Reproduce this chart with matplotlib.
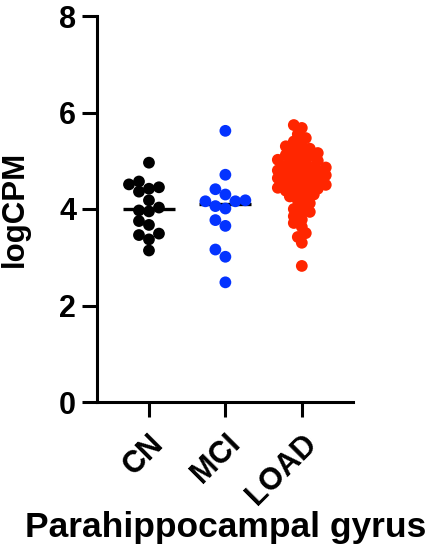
import numpy as np
import matplotlib.pyplot as plt

plt.rcParams['font.family'] = ['Liberation Sans', 'DejaVu Sans']
plt.rcParams['font.weight'] = 'bold'

groups = ['CN', 'MCI', 'LOAD']
colors = ['#000000', '#0433FF', '#FF2600']

cn = [4.96, 4.57, 4.51, 4.45, 4.42, 4.36, 4.18, 4.03, 3.97, 3.95,
      3.75, 3.67, 3.49, 3.46, 3.37, 3.14]
mci = [5.62, 4.71, 4.41, 4.30, 4.18, 4.16, 4.16, 4.06, 4.01, 3.77,
       3.65, 3.16, 3.01, 2.48]
load = [5.74, 5.68, 5.55, 5.47, 5.40, 5.35, 5.30, 5.25, 5.22, 5.18,
        5.16, 5.12, 5.10, 5.08, 5.05, 5.02, 5.00, 4.98, 4.95, 4.93,
        4.90, 4.88, 4.86, 4.84, 4.82, 4.80, 4.78, 4.76, 4.74, 4.72,
        4.70, 4.68, 4.66, 4.64, 4.62, 4.60, 4.58, 4.56, 4.54, 4.52,
        4.50, 4.48, 4.46, 4.44, 4.42, 4.40, 4.38, 4.36, 4.33, 4.30,
        4.26, 4.22, 4.18, 4.12, 4.06, 4.00, 3.94, 3.92, 3.85, 3.78,
        3.71, 3.63, 3.50, 3.42, 3.30, 2.82]
data = [cn, mci, load]

# px per data unit (figure 438x555 at dpi 100)
px_x = 76.5
px_y = 48.25


def swarm(vals, sep, step):
    # greedy beeswarm in pixel space
    placed = []
    offs = {}
    order = np.argsort(vals)
    for i in order:
        y = vals[i] * px_y
        k = 0
        while True:
            cands = [0] if k == 0 else [-k, k]
            ok = None
            for c in cands:
                x = c * step
                if all((x - px) ** 2 + (y - py) ** 2 >= sep ** 2 for px, py in placed):
                    ok = x
                    break
            if ok is not None:
                break
            k += 1
        placed.append((ok, y))
        offs[i] = ok / px_x
    return np.array([offs[i] for i in range(len(vals))])


fig = plt.figure(figsize=(4.38, 5.55), dpi=100)
ax = fig.add_axes([97 / 438, 1 - 402 / 555, 256 / 438, 386 / 555])

params = [(10, 10), (10, 10), (6.2, 4)]
for i, (vals, col) in enumerate(zip(data, colors)):
    vals = np.array(vals)
    sep, step = params[i]
    dx = swarm(vals, sep, step)
    ax.scatter(i + dx, vals, s=72, color=col, edgecolors='none', zorder=3)
    med = np.median(vals)
    ax.plot([i - 0.34, i + 0.34], [med, med], color='black', lw=2.4,
            solid_capstyle='butt', zorder=2)

ax.set_xlim(-0.68, 2.67)
ax.set_ylim(0, 8)
ax.set_yticks([0, 2, 4, 6, 8])
ax.set_xticks(range(3))
ax.set_xticklabels(groups, rotation=45, ha='right', rotation_mode='anchor')
for s in ['top', 'right']:
    ax.spines[s].set_visible(False)
for s in ['left', 'bottom']:
    ax.spines[s].set_linewidth(2.2)
ax.tick_params(width=2.2, length=11, labelsize=22, pad=4)
ax.tick_params(axis='x', pad=8)
ax.set_ylabel('logCPM', fontsize=22.5, fontweight='bold')
ax.yaxis.set_label_coords(-0.262, 0.5)

fig.text(226 / 438, 1 - 528 / 555, 'Parahippocampal gyrus', fontsize=25.5,
         fontweight='bold', ha='center', va='center')

fig.savefig('out.png', dpi=100)
